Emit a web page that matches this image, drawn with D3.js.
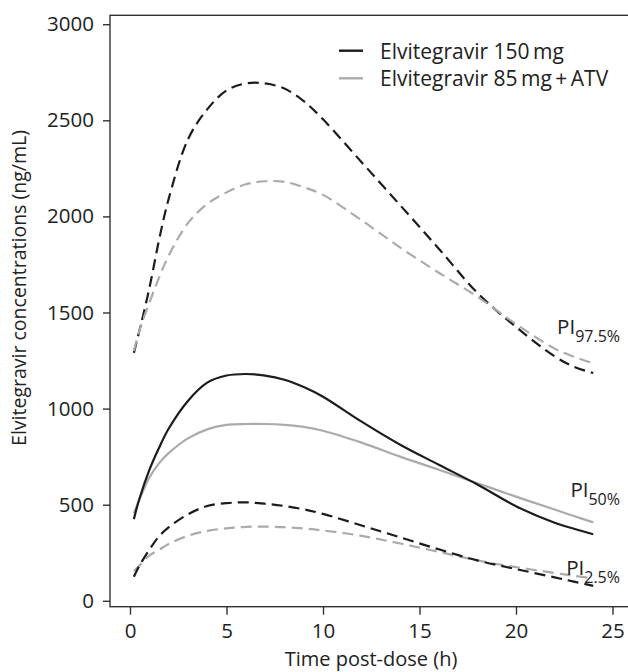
<!DOCTYPE html>
<html>
<head>
<meta charset="utf-8">
<script src="https://cdn.jsdelivr.net/npm/d3@7"></script>
<style>
  body { margin: 0; background: #fff; }
  svg text { font-family: 'Open Sans', 'Noto Sans', sans-serif; fill: #222; }
</style>
</head>
<body>
<div id="chart"></div>
<script>
// time points (h) and predicted concentrations (ng/mL)
var times = [0.2, 0.5, 1, 1.5, 2, 3, 4, 5, 6, 7, 8, 9, 10, 12, 14, 16, 18, 20, 22, 23, 24]

var evg150_p50 = [425, 535, 680, 795, 895, 1040, 1135, 1172, 1180, 1172, 1150, 1112, 1062, 932, 812, 708, 605, 492, 406, 375, 346]
var evg150_p975 = [1290, 1410, 1625, 1875, 2090, 2400, 2557, 2655, 2692, 2692, 2665, 2600, 2505, 2282, 2058, 1832, 1602, 1425, 1272, 1218, 1185]
var evg150_p25 = [125, 185, 265, 335, 382, 450, 493, 508, 512, 505, 493, 476, 452, 392, 330, 268, 210, 165, 122, 100, 78]

var evg85_p50 = [455, 530, 640, 715, 768, 845, 892, 915, 920, 920, 915, 905, 885, 823, 750, 682, 612, 542, 475, 441, 408]
var evg85_p975 = [1300, 1410, 1550, 1680, 1795, 1965, 2065, 2125, 2167, 2183, 2180, 2152, 2112, 1980, 1838, 1707, 1582, 1440, 1312, 1270, 1236]
var evg85_p25 = [155, 185, 235, 265, 296, 338, 364, 377, 385, 386, 383, 376, 366, 338, 298, 255, 210, 175, 145, 130, 117]

var xTicks = [0, 5, 10, 15, 20, 25]
var yTicks = [0, 500, 1000, 1500, 2000, 2500, 3000]

var legendLabels = ['Elvitegravir 150\u2009mg', 'Elvitegravir 85\u2009mg\u2009+\u2009ATV']
var piLabels = [
  { main: 'PI', sub: '97.5%' },
  { main: 'PI', sub: '50%' },
  { main: 'PI', sub: '2.5%' }
]

var black = '#1c1c1c'
var grey = '#ababab'

var width = 628
var height = 672

var svg = d3
  .select('#chart')
  .append('svg')
  .attr('width', width)
  .attr('height', height)

var xPositionScale = d3.scaleLinear().domain([0, 25]).range([130, 612.5])
var yPositionScale = d3.scaleLinear().domain([0, 3000]).range([600.8, 24.2])

// frame (right edge falls outside the picture)
svg
  .append('rect')
  .attr('x', 110)
  .attr('y', 15.3)
  .attr('width', 530)
  .attr('height', 606.7 - 15.3)
  .attr('fill', 'none')
  .attr('stroke', '#333')
  .attr('stroke-width', 1.4)

var series = [
  { values: evg150_p975, color: black, dash: '11,6' },
  { values: evg85_p975, color: grey, dash: '11,6' },
  { values: evg85_p50, color: grey, dash: null },
  { values: evg150_p50, color: black, dash: null },
  { values: evg85_p25, color: grey, dash: '11,6' },
  { values: evg150_p25, color: black, dash: '11,6' }
]

var line = d3
  .line()
  .x(d => xPositionScale(d[0]))
  .y(d => yPositionScale(d[1]))
  .curve(d3.curveCatmullRom.alpha(0.5))

svg
  .selectAll('.conc-line')
  .data(series)
  .enter()
  .append('path')
  .attr('class', 'conc-line')
  .attr('d', d => line(times.map((t, i) => [t, d.values[i]])))
  .attr('fill', 'none')
  .attr('stroke', d => d.color)
  .attr('stroke-width', 2.2)
  .attr('stroke-dasharray', d => d.dash)

// axes
var xAxis = d3
  .axisBottom(xPositionScale)
  .tickValues(xTicks)
  .tickSizeInner(8)
  .tickSizeOuter(0)
  .tickPadding(9)

svg
  .append('g')
  .attr('class', 'axis x-axis')
  .attr('transform', 'translate(0,606.7)')
  .call(xAxis)

var yAxis = d3
  .axisLeft(yPositionScale)
  .tickValues(yTicks)
  .tickFormat(d3.format('d'))
  .tickSizeInner(7)
  .tickSizeOuter(0)
  .tickPadding(9)

svg
  .append('g')
  .attr('class', 'axis y-axis')
  .attr('transform', 'translate(110,0)')
  .call(yAxis)

svg.selectAll('.axis .domain').remove()
svg.selectAll('.axis line').attr('stroke', '#333').attr('stroke-width', 1.4)
svg.selectAll('.axis text').attr('font-size', 20.5).attr('fill', '#222')
svg.selectAll('.x-axis text').attr('dy', '0.71em')

// axis titles
svg
  .append('text')
  .text('Time post-dose (h)')
  .attr('x', 371)
  .attr('y', 666)
  .attr('text-anchor', 'middle')
  .attr('font-size', 20)

svg
  .append('text')
  .text('Elvitegravir concentrations (ng/mL)')
  .attr('transform', 'translate(26,288) rotate(-90)')
  .attr('text-anchor', 'middle')
  .attr('font-size', 19.5)

// legend
var legend = svg
  .selectAll('.legend')
  .data(legendLabels)
  .enter()
  .append('g')
  .attr('class', 'legend')
  .attr('transform', (d, i) => 'translate(339,' + (50.7 + i * 27.6) + ')')

legend
  .append('line')
  .attr('x1', 0)
  .attr('x2', 24)
  .attr('stroke', (d, i) => (i === 0 ? black : grey))
  .attr('stroke-width', 2.4)

legend
  .append('text')
  .text(d => d)
  .attr('x', 41)
  .attr('y', 7.8)
  .attr('font-size', 21)

// PI labels at the right end of each pair of curves
var piY = [334, 497, 575]

var pi = svg
  .selectAll('.pi-label')
  .data(piLabels)
  .enter()
  .append('text')
  .attr('class', 'pi-label')
  .attr('x', 620)
  .attr('y', (d, i) => piY[i])
  .attr('text-anchor', 'end')
  .attr('font-size', 20.5)

pi.append('tspan').text(d => d.main)
pi
  .append('tspan')
  .text(d => d.sub)
  .attr('dy', 8)
  .attr('font-size', 16)
</script>
</body>
</html>
